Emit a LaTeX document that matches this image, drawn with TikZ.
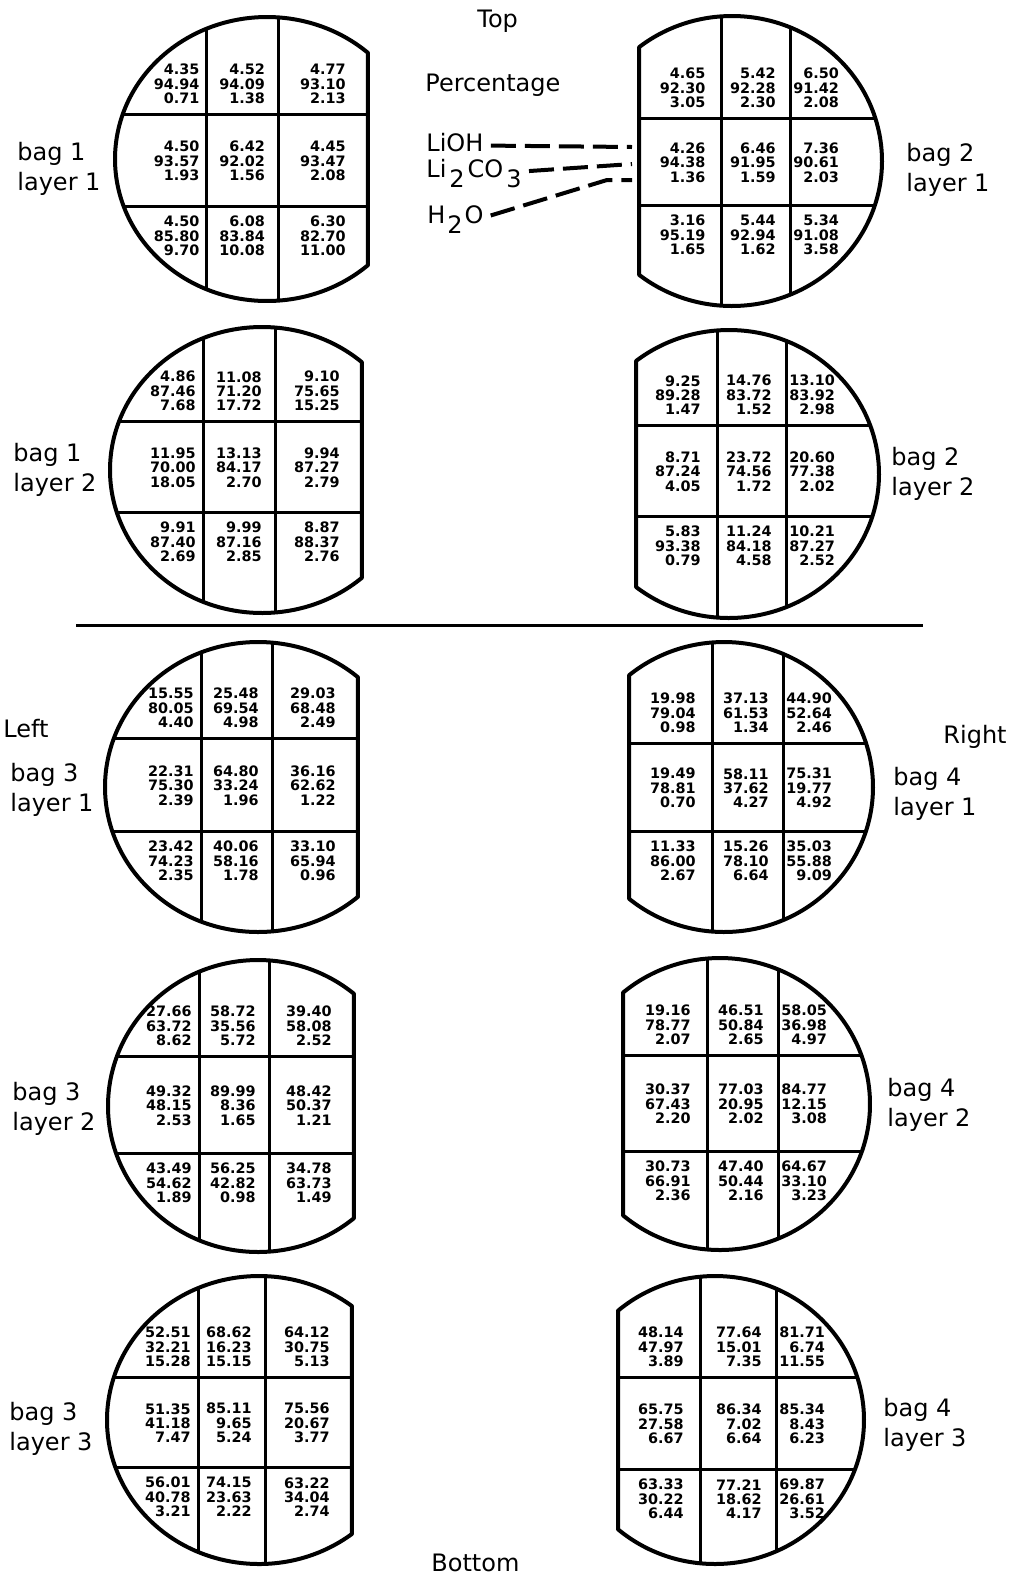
\documentclass[tikz,border=0pt]{standalone}
\usepackage{fontspec}
\setmainfont{DejaVu Sans}
\begin{document}
\begin{tikzpicture}[x=0.5pt,y=-0.5pt,
    bagline/.style={line width=2pt,line join=round},
    gridline/.style={line width=1.5pt},
    num/.style={font=\fontsize{7.2}{7.15}\selectfont\bfseries,align=right,inner sep=0pt},
    lbl/.style={font=\fontsize{12}{15}\selectfont,align=left,inner sep=0pt},
    keyline/.style={line width=2pt,dash pattern=on 12.5pt off 4.5pt,shorten <=3.5pt}]
    \useasboundingbox (0,0) rectangle (1013,1575);
    % one bag: centre, radii, cut, two vertical and two horizontal lines
    \def\bag#1#2#3#4#5#6#7#8#9{
        \def\cx{#1}\def\cut{#5}\def\vA{#6}\def\vB{#7}\def\hA{#8}\def\hB{#9}
        \pgfmathsetmacro\ang{acos((#5-#1)/#3)}
        \pgfmathsetmacro\angend{\ang<90 ? 360-\ang : -\ang}
        \def\rim{(#1,#2) ++(\ang:#3 and #4) arc[start angle=\ang,end angle=\angend,x radius=#3,y radius=#4] -- cycle}
        \begin{scope}
            \clip \rim;
            \draw[gridline] (#6,#2-#4)--(#6,#2+#4) (#7,#2-#4)--(#7,#2+#4)
            (#1-#3,#8)--(#1+#3,#8) (#1-#3,#9)--(#1+#3,#9);
        \end{scope}
        \draw[bagline] \rim;
    }
    % the nine LiOH/Li2CO3/H2O stacks of the last bag
    \def\cells#1#2{
        \pgfmathtruncatemacro\isright{\cut<\cx ? 1 : 0}
        \foreach \oh/\co/\wt [count=\i from 0] in {#2}{
            \pgfmathtruncatemacro\row{floor(\i/3)}
            \pgfmathtruncatemacro\col{mod(\i,3)}
            \pgfmathsetmacro\nx{\isright==0 ? (\col==0 ? \vA-7 : (\col==1 ? \vB-13 : \cut-22)) : (\col==0 ? \vA-16 : (\col==1 ? \vB-14 : \vB+3))}
            \pgfmathsetmacro\ny{\row==0 ? \hA-30 : (\row==1 ? (\hA+\hB)/2+1 : \hB+30)}
            \ifnum\numexpr\col*\isright\relax=2 \def\side{west}\else\def\side{east}\fi
            \node[num,anchor=\side] (#1-\i) at (\nx,\ny) {\oh\\\co\\\wt};
        }
    }
    \bag{267}{159}{152}{142}{368}{206.7}{278.3}{114}{206}
    \cells{b1l1}{4.35/94.94/0.71,4.52/94.09/1.38,4.77/93.10/2.13,
        4.50/93.57/1.93,6.42/92.02/1.56,4.45/93.47/2.08,
        4.50/85.80/9.70,6.08/83.84/10.08,6.30/82.70/11.00}
    \bag{732}{161}{150}{145}{639}{721.7}{790}{118}{205}
    \cells{b2l1}{4.65/92.30/3.05,5.42/92.28/2.30,6.50/91.42/2.08,
        4.26/94.38/1.36,6.46/91.95/1.59,7.36/90.61/2.03,
        3.16/95.19/1.65,5.44/92.94/1.62,5.34/91.08/3.58}
    \bag{262}{470}{152}{143}{362}{203}{275}{421}{512}
    \cells{b1l2}{4.86/87.46/7.68,11.08/71.20/17.72,9.10/75.65/15.25,
        11.95/70.00/18.05,13.13/84.17/2.70,9.94/87.27/2.79,
        9.91/87.40/2.69,9.99/87.16/2.85,8.87/88.37/2.76}
    \bag{729}{474}{150}{144}{636}{717}{786}{425}{516}
    \cells{b2l2}{9.25/89.28/1.47,14.76/83.72/1.52,13.10/83.92/2.98,
        8.71/87.24/4.05,23.72/74.56/1.72,20.60/77.38/2.02,
        5.83/93.38/0.79,11.24/84.18/4.58,10.21/87.27/2.52}
    \bag{258}{787}{153}{145}{358}{201}{272}{738}{831}
    \cells{b3l1}{15.55/80.05/4.40,25.48/69.54/4.98,29.03/68.48/2.49,
        22.31/75.30/2.39,64.80/33.24/1.96,36.16/62.62/1.22,
        23.42/74.23/2.35,40.06/58.16/1.78,33.10/65.94/0.96}
    \bag{724}{787}{149}{145}{629}{712}{783}{743}{831}
    \cells{b4l1}{19.98/79.04/0.98,37.13/61.53/1.34,44.90/52.64/2.46,
        19.49/78.81/0.70,58.11/37.62/4.27,75.31/19.77/4.92,
        11.33/86.00/2.67,15.26/78.10/6.64,35.03/55.88/9.09}
    \bag{258}{1106}{150}{146}{354}{199}{269}{1056}{1153}
    \cells{b3l2}{27.66/63.72/8.62,58.72/35.56/5.72,39.40/58.08/2.52,
        49.32/48.15/2.53,89.99/8.36/1.65,48.42/50.37/1.21,
        43.49/54.62/1.89,56.25/42.82/0.98,34.78/63.73/1.49}
    \bag{720}{1104}{150}{146}{623}{707}{778}{1055}{1151}
    \cells{b4l2}{19.16/78.77/2.07,46.51/50.84/2.65,58.05/36.98/4.97,
        30.37/67.43/2.20,77.03/20.95/2.02,84.77/12.15/3.08,
        30.73/66.91/2.36,47.40/50.44/2.16,64.67/33.10/3.23}
    \bag{259}{1420}{152}{144}{352}{198}{265}{1377}{1467}
    \cells{b3l3}{52.51/32.21/15.28,68.62/16.23/15.15,64.12/30.75/5.13,
        51.35/41.18/7.47,85.11/9.65/5.24,75.56/20.67/3.77,
        56.01/40.78/3.21,74.15/23.63/2.22,63.22/34.04/2.74}
    \bag{715}{1420}{149}{144}{618}{700}{776}{1377}{1469}
    \cells{b4l3}{48.14/47.97/3.89,77.64/15.01/7.35,81.71/6.74/11.55,
        65.75/27.58/6.67,86.34/7.02/6.64,85.34/8.43/6.23,
        63.33/30.22/6.44,77.21/18.62/4.17,69.87/26.61/3.52}
    % bag names
    \foreach \nm/\x/\y/\t in {b1l1/17/142/bag 1\\layer 1,b2l1/906/143/bag 2\\layer 1,
        b1l2/13/443/bag 1\\layer 2,b2l2/891/447/bag 2\\layer 2,
        b3l1/10/763/bag 3\\layer 1,b4l1/893/767/bag 4\\layer 1,
        b3l2/12/1082/bag 3\\layer 2,b4l2/887/1078/bag 4\\layer 2,
        b3l3/9/1402/bag 3\\layer 3,b4l3/883/1398/bag 4\\layer 3}
    \node[lbl,anchor=north west] (\nm-name) at (\x,\y) {\t};
    \node[lbl,anchor=base west] (top) at (477,27) {Top};
    \node[lbl,anchor=base west] (pct) at (425,91) {Percentage};
    \node[lbl,anchor=base west] (left) at (3,737) {Left};
    \node[lbl,anchor=base west] (right) at (943,743) {Right};
    \node[lbl,anchor=base west] (bottom) at (431,1571) {Bottom};
    \draw[line width=1.4pt] (76,625.5) -- (923,625.5);
    % key
    \node[lbl,anchor=base west] (lioh) at (426,151) {LiOH};
    \node[lbl,anchor=base west] (carb) at (426,177)
        {Li\kern1.5pt\raisebox{-0.45em}{2}\kern1.5pt CO\kern1.5pt\raisebox{-0.45em}{3}};
    \node[lbl,anchor=base west] (water) at (427,223) {H\kern1pt\raisebox{-0.45em}{2}\kern1pt O};
    \coordinate (lioh end) at (632,147);
    \coordinate (carb end) at (632,164);
    \coordinate (water bend) at (607,180);
    \coordinate (water end) at (632,180);
    \draw[keyline] (lioh.mid east) -- (lioh end);
    \draw[keyline] (carb.mid east) -- (carb end);
    \draw[keyline] (water.mid east) -- (water bend) -- (water end);
\end{tikzpicture}
\end{document}
